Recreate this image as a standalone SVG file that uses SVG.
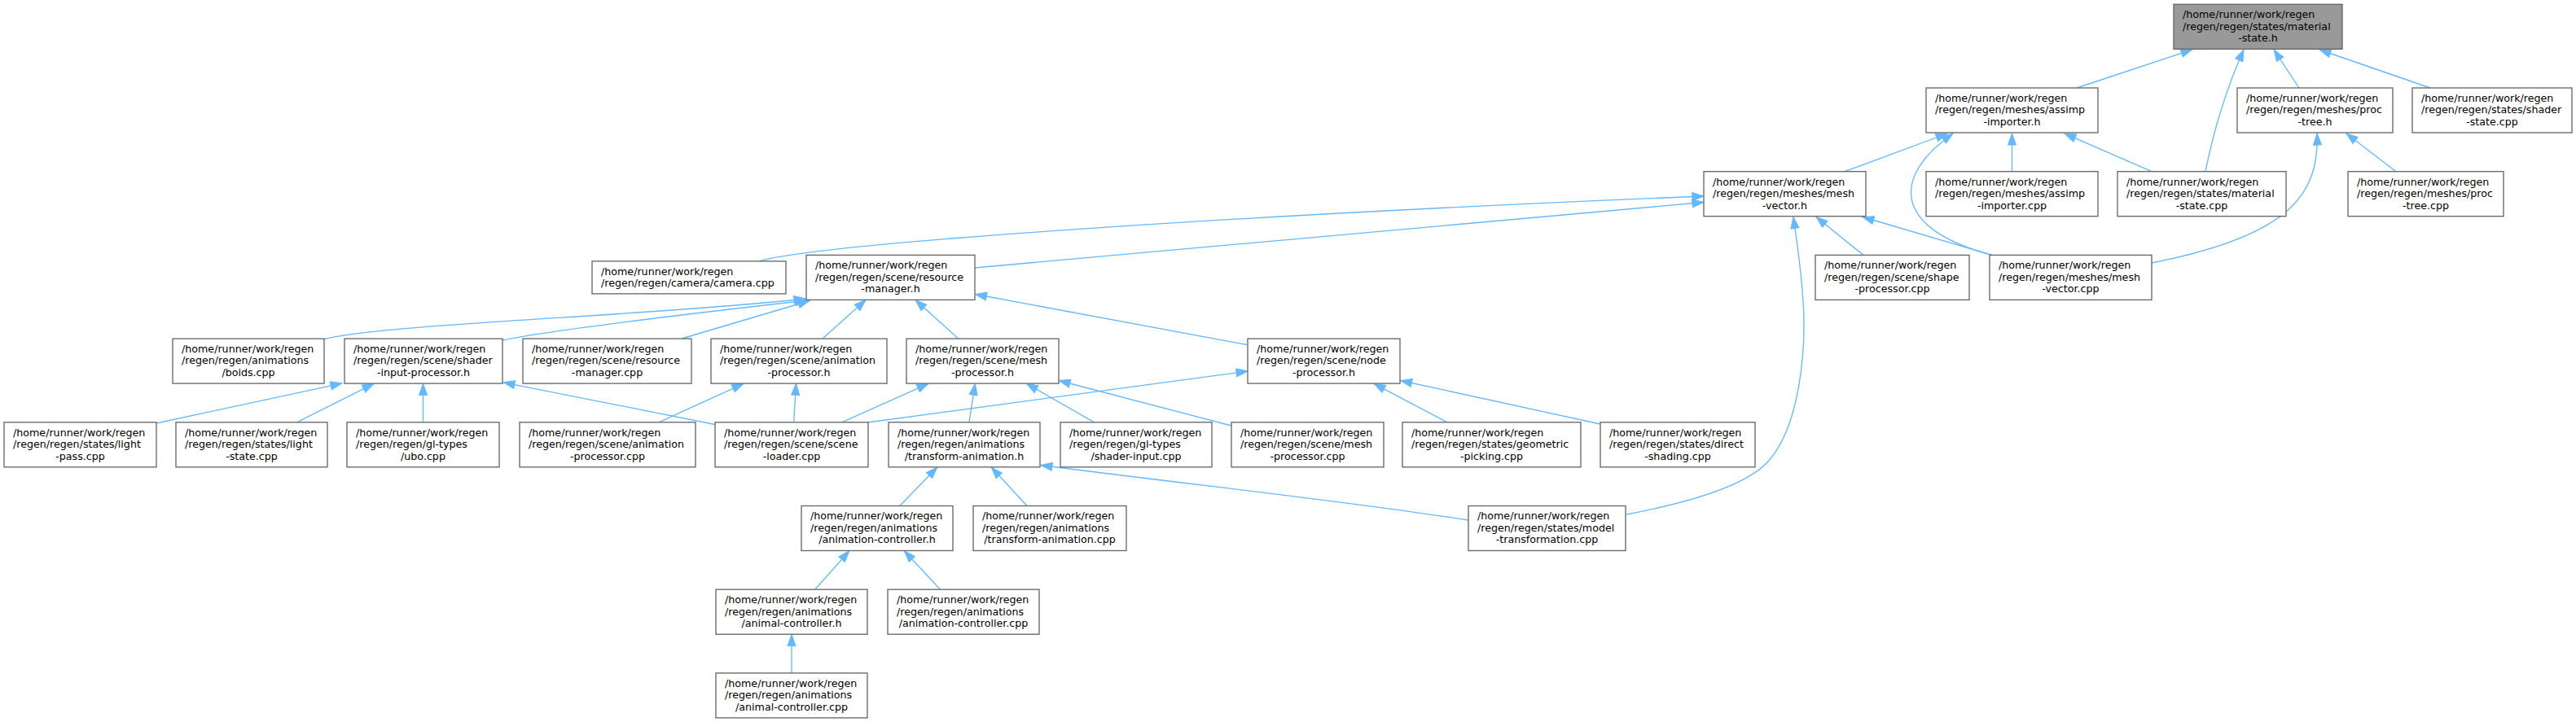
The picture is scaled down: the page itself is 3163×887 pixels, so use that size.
<svg xmlns="http://www.w3.org/2000/svg" width="3163" height="887" viewBox="0 0 3163 887">
<style>
.n rect{fill:#ffffff;stroke:#666666;stroke-width:1.33}
.root rect{fill:#999999}
text{font-family:"DejaVu Sans","Liberation Sans",sans-serif;font-size:12.67px;fill:#000000}
.c{text-anchor:middle}
#edges path{fill:none;stroke:#63b8ff;stroke-width:1.33;marker-end:url(#ah)}
</style>
<defs>
<marker id="ah" markerUnits="userSpaceOnUse" markerWidth="16" markerHeight="12" viewBox="0 0 16 12" refX="15" refY="6" orient="auto">
<polygon points="1,1 15,6 1,11" fill="#63b8ff" stroke="#63b8ff" stroke-width="1"/>
</marker>
</defs>
<rect width="3163" height="887" fill="#ffffff"/>
<g id="edges">
<path d="M2550,108 L2692,60.8"/>
<path d="M2708,210.7 C2720,150 2740,95 2755,61"/>
<path d="M2823,108 L2792,61"/>
<path d="M2984,108 L2848,61"/>
<path d="M2265,210.7 L2391,164"/>
<path d="M2446,313.4 C2320,280 2325,215 2398,164"/>
<path d="M2470.5,210.7 L2470.5,164"/>
<path d="M2642,210.7 L2535,164"/>
<path d="M2642,323 C2810,290 2848,240 2845,164"/>
<path d="M2942,210.7 L2881,164"/>
<path d="M932,320.9 C1000,300 1500,265 2092,241"/>
<path d="M1197,329 L2092,248.5"/>
<path d="M2288,313.4 L2230,266.5"/>
<path d="M2446,313.4 L2287,266.5"/>
<path d="M1997,632 C2060,620 2140,600 2170,568 C2210,525 2218,430 2214,370 C2211,325 2206,295 2202,266.5"/>
<path d="M398.3,416.5 C470,398 800,388 989,367"/>
<path d="M617,418 C680,405 850,385 991,369"/>
<path d="M837,416 L994,369.5"/>
<path d="M1010,416 L1063,368.6"/>
<path d="M1176.7,416 L1124,368.6"/>
<path d="M1531,423.5 L1197.5,361.5"/>
<path d="M192,520 L420,470.8"/>
<path d="M364.5,518.8 L459,471.3"/>
<path d="M519.5,518.8 L519.5,471.3"/>
<path d="M878,521.5 L618,469.8"/>
<path d="M809,518.8 L913,471.3"/>
<path d="M974.6,518.8 L977.5,471.3"/>
<path d="M1033.7,518.8 L1140,471.3"/>
<path d="M1065,519 L1532,456"/>
<path d="M1190,518.8 L1197.3,471.3"/>
<path d="M1343.6,518.8 L1260.4,471.3"/>
<path d="M1512,523 L1300,467.5"/>
<path d="M1777,518.8 L1687,471.3"/>
<path d="M1965,521 L1719.6,467.5"/>
<path d="M1104.8,621.5 L1150.8,574"/>
<path d="M1261,621.5 L1217.3,574"/>
<path d="M1803,639 C1650,615 1500,600 1278,571.5"/>
<path d="M1000.8,724.2 L1042.9,676.7"/>
<path d="M1154.6,724.2 L1110.2,676.7"/>
<path d="M972,826.9 L972,779.4"/>
</g>
<g id="material-state-h" class="n root"><rect x="2669" y="5.3" width="207" height="55"/><text x="2680" y="22.1">/home/runner/work/regen</text><text x="2680" y="36.6">/regen/regen/states/material</text><text class="c" x="2772.5" y="51.1">-state.h</text></g>
<g id="assimp-importer-h" class="n"><rect x="2365" y="108" width="211" height="55"/><text x="2376" y="124.8">/home/runner/work/regen</text><text x="2376" y="139.3">/regen/regen/meshes/assimp</text><text class="c" x="2470.5" y="153.8">-importer.h</text></g>
<g id="proc-tree-h" class="n"><rect x="2747" y="108" width="191" height="55"/><text x="2758" y="124.8">/home/runner/work/regen</text><text x="2758" y="139.3">/regen/regen/meshes/proc</text><text class="c" x="2842.5" y="153.8">-tree.h</text></g>
<g id="shader-state-cpp" class="n"><rect x="2962" y="108" width="196" height="55"/><text x="2973" y="124.8">/home/runner/work/regen</text><text x="2973" y="139.3">/regen/regen/states/shader</text><text class="c" x="3060" y="153.8">-state.cpp</text></g>
<g id="mesh-vector-h" class="n"><rect x="2092" y="210.7" width="199" height="55"/><text x="2103" y="227.5">/home/runner/work/regen</text><text x="2103" y="242">/regen/regen/meshes/mesh</text><text class="c" x="2191.5" y="256.5">-vector.h</text></g>
<g id="assimp-importer-cpp" class="n"><rect x="2365" y="210.7" width="211" height="55"/><text x="2376" y="227.5">/home/runner/work/regen</text><text x="2376" y="242">/regen/regen/meshes/assimp</text><text class="c" x="2470.5" y="256.5">-importer.cpp</text></g>
<g id="material-state-cpp" class="n"><rect x="2600" y="210.7" width="207" height="55"/><text x="2611" y="227.5">/home/runner/work/regen</text><text x="2611" y="242">/regen/regen/states/material</text><text class="c" x="2703.5" y="256.5">-state.cpp</text></g>
<g id="proc-tree-cpp" class="n"><rect x="2883" y="210.7" width="191" height="55"/><text x="2894" y="227.5">/home/runner/work/regen</text><text x="2894" y="242">/regen/regen/meshes/proc</text><text class="c" x="2978.5" y="256.5">-tree.cpp</text></g>
<g id="camera-cpp" class="n"><rect x="727" y="320.9" width="238" height="40"/><text x="738" y="337.5">/home/runner/work/regen</text><text x="738" y="352">/regen/regen/camera/camera.cpp</text></g>
<g id="resource-manager-h" class="n"><rect x="990" y="313.4" width="207" height="55"/><text x="1001" y="330.2">/home/runner/work/regen</text><text x="1001" y="344.7">/regen/regen/scene/resource</text><text class="c" x="1093.5" y="359.2">-manager.h</text></g>
<g id="shape-processor-cpp" class="n"><rect x="2229" y="313.4" width="189" height="55"/><text x="2240" y="330.2">/home/runner/work/regen</text><text x="2240" y="344.7">/regen/regen/scene/shape</text><text class="c" x="2323.5" y="359.2">-processor.cpp</text></g>
<g id="mesh-vector-cpp" class="n"><rect x="2443" y="313.4" width="199" height="55"/><text x="2454" y="330.2">/home/runner/work/regen</text><text x="2454" y="344.7">/regen/regen/meshes/mesh</text><text class="c" x="2542.5" y="359.2">-vector.cpp</text></g>
<g id="boids-cpp" class="n"><rect x="212" y="416.1" width="186" height="55"/><text x="223" y="432.9">/home/runner/work/regen</text><text x="223" y="447.4">/regen/regen/animations</text><text class="c" x="305" y="461.9">/boids.cpp</text></g>
<g id="shader-input-processor-h" class="n"><rect x="423" y="416.1" width="194" height="55"/><text x="434" y="432.9">/home/runner/work/regen</text><text x="434" y="447.4">/regen/regen/scene/shader</text><text class="c" x="520" y="461.9">-input-processor.h</text></g>
<g id="resource-manager-cpp" class="n"><rect x="642" y="416.1" width="207" height="55"/><text x="653" y="432.9">/home/runner/work/regen</text><text x="653" y="447.4">/regen/regen/scene/resource</text><text class="c" x="745.5" y="461.9">-manager.cpp</text></g>
<g id="animation-processor-h" class="n"><rect x="873" y="416.1" width="216" height="55"/><text x="884" y="432.9">/home/runner/work/regen</text><text x="884" y="447.4">/regen/regen/scene/animation</text><text class="c" x="981" y="461.9">-processor.h</text></g>
<g id="mesh-processor-h" class="n"><rect x="1113" y="416.1" width="187" height="55"/><text x="1124" y="432.9">/home/runner/work/regen</text><text x="1124" y="447.4">/regen/regen/scene/mesh</text><text class="c" x="1206.5" y="461.9">-processor.h</text></g>
<g id="node-processor-h" class="n"><rect x="1532" y="416.1" width="187" height="55"/><text x="1543" y="432.9">/home/runner/work/regen</text><text x="1543" y="447.4">/regen/regen/scene/node</text><text class="c" x="1625.5" y="461.9">-processor.h</text></g>
<g id="light-pass-cpp" class="n"><rect x="5" y="518.8" width="187" height="55"/><text x="16" y="535.6">/home/runner/work/regen</text><text x="16" y="550.1">/regen/regen/states/light</text><text class="c" x="98.5" y="564.6">-pass.cpp</text></g>
<g id="light-state-cpp" class="n"><rect x="216" y="518.8" width="186" height="55"/><text x="227" y="535.6">/home/runner/work/regen</text><text x="227" y="550.1">/regen/regen/states/light</text><text class="c" x="309" y="564.6">-state.cpp</text></g>
<g id="ubo-cpp" class="n"><rect x="426" y="518.8" width="187" height="55"/><text x="437" y="535.6">/home/runner/work/regen</text><text x="437" y="550.1">/regen/regen/gl-types</text><text class="c" x="519.5" y="564.6">/ubo.cpp</text></g>
<g id="animation-processor-cpp" class="n"><rect x="638" y="518.8" width="216" height="55"/><text x="649" y="535.6">/home/runner/work/regen</text><text x="649" y="550.1">/regen/regen/scene/animation</text><text class="c" x="746" y="564.6">-processor.cpp</text></g>
<g id="scene-loader-cpp" class="n"><rect x="878" y="518.8" width="188" height="55"/><text x="889" y="535.6">/home/runner/work/regen</text><text x="889" y="550.1">/regen/regen/scene/scene</text><text class="c" x="972" y="564.6">-loader.cpp</text></g>
<g id="transform-animation-h" class="n"><rect x="1091" y="518.8" width="186" height="55"/><text x="1102" y="535.6">/home/runner/work/regen</text><text x="1102" y="550.1">/regen/regen/animations</text><text class="c" x="1184" y="564.6">/transform-animation.h</text></g>
<g id="shader-input-cpp" class="n"><rect x="1302" y="518.8" width="186" height="55"/><text x="1313" y="535.6">/home/runner/work/regen</text><text x="1313" y="550.1">/regen/regen/gl-types</text><text class="c" x="1395" y="564.6">/shader-input.cpp</text></g>
<g id="mesh-processor-cpp" class="n"><rect x="1512" y="518.8" width="187" height="55"/><text x="1523" y="535.6">/home/runner/work/regen</text><text x="1523" y="550.1">/regen/regen/scene/mesh</text><text class="c" x="1605.5" y="564.6">-processor.cpp</text></g>
<g id="geometric-picking-cpp" class="n"><rect x="1722" y="518.8" width="219" height="55"/><text x="1733" y="535.6">/home/runner/work/regen</text><text x="1733" y="550.1">/regen/regen/states/geometric</text><text class="c" x="1831.5" y="564.6">-picking.cpp</text></g>
<g id="direct-shading-cpp" class="n"><rect x="1965" y="518.8" width="190" height="55"/><text x="1976" y="535.6">/home/runner/work/regen</text><text x="1976" y="550.1">/regen/regen/states/direct</text><text class="c" x="2060" y="564.6">-shading.cpp</text></g>
<g id="animation-controller-h" class="n"><rect x="984" y="621.5" width="186" height="55"/><text x="995" y="638.3">/home/runner/work/regen</text><text x="995" y="652.8">/regen/regen/animations</text><text class="c" x="1077" y="667.3">/animation-controller.h</text></g>
<g id="transform-animation-cpp" class="n"><rect x="1195" y="621.5" width="188" height="55"/><text x="1206" y="638.3">/home/runner/work/regen</text><text x="1206" y="652.8">/regen/regen/animations</text><text class="c" x="1289" y="667.3">/transform-animation.cpp</text></g>
<g id="model-transformation-cpp" class="n"><rect x="1803" y="621.5" width="193" height="55"/><text x="1814" y="638.3">/home/runner/work/regen</text><text x="1814" y="652.8">/regen/regen/states/model</text><text class="c" x="1899.5" y="667.3">-transformation.cpp</text></g>
<g id="animal-controller-h" class="n"><rect x="879" y="724.2" width="186" height="55"/><text x="890" y="741">/home/runner/work/regen</text><text x="890" y="755.5">/regen/regen/animations</text><text class="c" x="972" y="770">/animal-controller.h</text></g>
<g id="animation-controller-cpp" class="n"><rect x="1090" y="724.2" width="186" height="55"/><text x="1101" y="741">/home/runner/work/regen</text><text x="1101" y="755.5">/regen/regen/animations</text><text class="c" x="1183" y="770">/animation-controller.cpp</text></g>
<g id="animal-controller-cpp" class="n"><rect x="879" y="826.9" width="186" height="55"/><text x="890" y="843.7">/home/runner/work/regen</text><text x="890" y="858.2">/regen/regen/animations</text><text class="c" x="972" y="872.7">/animal-controller.cpp</text></g>
</svg>
